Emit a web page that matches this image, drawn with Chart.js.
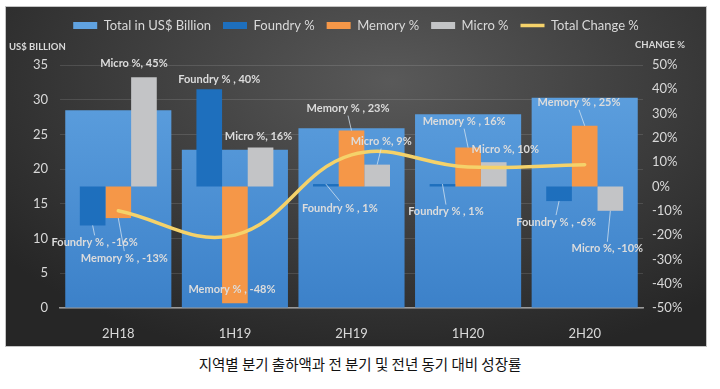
<!DOCTYPE html>
<html><head><meta charset="utf-8">
<script src="https://cdn.jsdelivr.net/npm/chart.js@4/dist/chart.umd.min.js"></script>
<style>
html,body{margin:0;padding:0;background:#fff;width:720px;height:389px;overflow:hidden;}
#panel{position:absolute;left:5px;top:6px;width:702px;height:341px;box-sizing:border-box;border:1px solid #c4c4c4;
background:radial-gradient(ellipse 70% 85% at 55% 22%, #595959 0%, #3f3f3f 50%, #262626 100%);}
#caption{position:absolute;left:0;top:354px;width:720px;text-align:center;font-family:"Noto Sans CJK KR";font-size:14.5px;color:#111;line-height:20px;}
</style></head>
<body>
<div id="panel"><canvas id="c"></canvas></div>
<div id="caption">지역별 분기 출하액과 전 분기 및 전년 동기 대비 성장률</div>
<script>
const categories = ['2H18', '1H19', '2H19', '1H20', '2H20'];
const totalBillion = [28.5, 22.8, 25.9, 27.9, 30.3];
const foundryPct = [-16, 40, 1, 1, -6];
const memoryPct = [-13, -48, 23, 16, 25];
const microPct = [45, 16, 9, 10, -10];
const totalChangePct = [-10, -20, 13, 8, 9];
const seriesNames = ['Total in US$ Billion', 'Foundry %', 'Memory %', 'Micro %', 'Total Change %'];
const labelSeparators = {1: ' , ', 2: ' , ', 3: ', '};

// label placement relative to bar value end: [dx, dy, leader]
const labelPlacement = {
  1: [[2, 17, 1], [10, -10, 0], [14, 24, 1], [3.5, 27.5, 1], [-3, 21, 1]],
  2: [[6, 40, 1], [-3, -14, 0], [-3.5, -22, 1], [-4, -26, 1], [-5.7, -23, 1]],
  3: [[-10, -14, 0], [-2, -11, 0], [4, -23, 1], [11.5, -12.5, 0], [-3, 38, 1]]
};

const TXT = '#d9d9d9';
const FONT = 'Lato';

const legendHeightPlugin = {
  id: 'legendHeight',
  beforeUpdate(chart) {
    const lg = chart.legend;
    if (lg && !lg._patched) {
      const f = lg.fit;
      lg.fit = function () { f.call(this); this.height = 58; };
      lg._patched = true;
    }
  }
};

const labelsPlugin = {
  id: 'barLabels',
  afterDatasetsDraw(chart) {
    const ctx = chart.ctx;
    ctx.save();
    ctx.font = 'bold 11px ' + FONT;
    ctx.textAlign = 'center';
    ctx.textBaseline = 'middle';
    [1, 2, 3].forEach(di => {
      const meta = chart.getDatasetMeta(di);
      const ds = chart.data.datasets[di];
      meta.data.forEach((bar, i) => {
        const p = labelPlacement[di][i];
        const lx = bar.x + p[0], ly = bar.y + p[1];
        if (p[2]) {
          ctx.strokeStyle = 'rgba(215,228,240,0.75)';
          ctx.lineWidth = 1;
          ctx.beginPath();
          ctx.moveTo(bar.x, bar.y);
          ctx.lineTo(lx, ly - Math.sign(p[1]) * 7);
          ctx.stroke();
        }
        ctx.fillStyle = '#dcdcdc';
        ctx.fillText(ds.label + labelSeparators[di] + ds.data[i] + '%', lx, ly);
      });
    });
    ctx.restore();
  },
  afterDraw(chart) {
    const ctx = chart.ctx;
    ctx.save();
    ctx.fillStyle = TXT;
    ctx.font = 'bold 9.5px ' + FONT;
    ctx.textBaseline = 'middle';
    ctx.textAlign = 'left';
    ctx.fillText('US$ BILLION', 3, 40);
    ctx.textAlign = 'right';
    ctx.fillText('CHANGE %', 679, 38);
    ctx.restore();
  }
};

function totalGradient(context) {
  const ca = context.chart.chartArea;
  if (!ca) return '#4f91d6';
  const g = context.chart.ctx.createLinearGradient(0, ca.top, 0, ca.bottom);
  g.addColorStop(0, '#60a2e0');
  g.addColorStop(1, '#3c81c9');
  return g;
}

new Chart(document.getElementById('c'), {
  type: 'bar',
  data: {
    labels: categories,
    datasets: [
      { label: seriesNames[0], data: totalBillion, yAxisID: 'y', grouped: false, order: 5,
        backgroundColor: totalGradient, categoryPercentage: 1, barPercentage: 0.91, pointStyle: 'rect' },
      { label: seriesNames[1], data: foundryPct, yAxisID: 'y1', order: 2, backgroundColor: '#1e6fbd',
        categoryPercentage: 0.66, barPercentage: 1, pointStyle: 'rect' },
      { label: seriesNames[2], data: memoryPct, yAxisID: 'y1', order: 2, backgroundColor: '#f59748',
        categoryPercentage: 0.66, barPercentage: 1, pointStyle: 'rect' },
      { label: seriesNames[3], data: microPct, yAxisID: 'y1', order: 2, backgroundColor: '#c3c4c6',
        categoryPercentage: 0.66, barPercentage: 1, pointStyle: 'rect' },
      { type: 'line', label: seriesNames[4], data: totalChangePct, yAxisID: 'y1', order: 1,
        borderColor: '#f5d26a', backgroundColor: '#f5d26a', borderWidth: 3.5, tension: 0.4,
        pointRadius: 0, pointStyle: 'line', borderCapStyle: 'round' }
    ]
  },
  options: {
    responsive: true,
    maintainAspectRatio: false,
    animation: false,
    layout: { padding: 0 },
    plugins: {
      tooltip: { enabled: false },
      legend: {
        position: 'top',
        labels: {
          usePointStyle: true, pointStyleWidth: 24, boxHeight: 7, padding: 12,
          color: TXT, font: { family: FONT, size: 13 },
          sort: (a, b) => a.datasetIndex - b.datasetIndex
        }
      }
    },
    scales: {
      x: {
        grid: { display: false, drawTicks: false },
        border: { display: true, color: '#9a9a9a', width: 1.5 },
        ticks: { color: TXT, font: { family: FONT, size: 13 }, padding: 18 },
        afterFit: s => { s.height = 38; }
      },
      y: {
        position: 'left', min: 0, max: 35,
        ticks: { stepSize: 5, color: TXT, font: { family: FONT, size: 13 }, padding: 12 },
        grid: { color: 'rgba(255,255,255,0.12)', drawTicks: false },
        border: { display: false },
        afterFit: s => { s.width = 54; }
      },
      y1: {
        position: 'right', min: -50, max: 50,
        ticks: { stepSize: 10, color: TXT, font: { family: FONT, size: 13 }, padding: 9,
                 callback: v => v + '%' },
        grid: { display: false, drawTicks: false },
        border: { display: false },
        afterFit: s => { s.width = 63; }
      }
    }
  },
  plugins: [legendHeightPlugin, labelsPlugin]
});
</script>
</body></html>
